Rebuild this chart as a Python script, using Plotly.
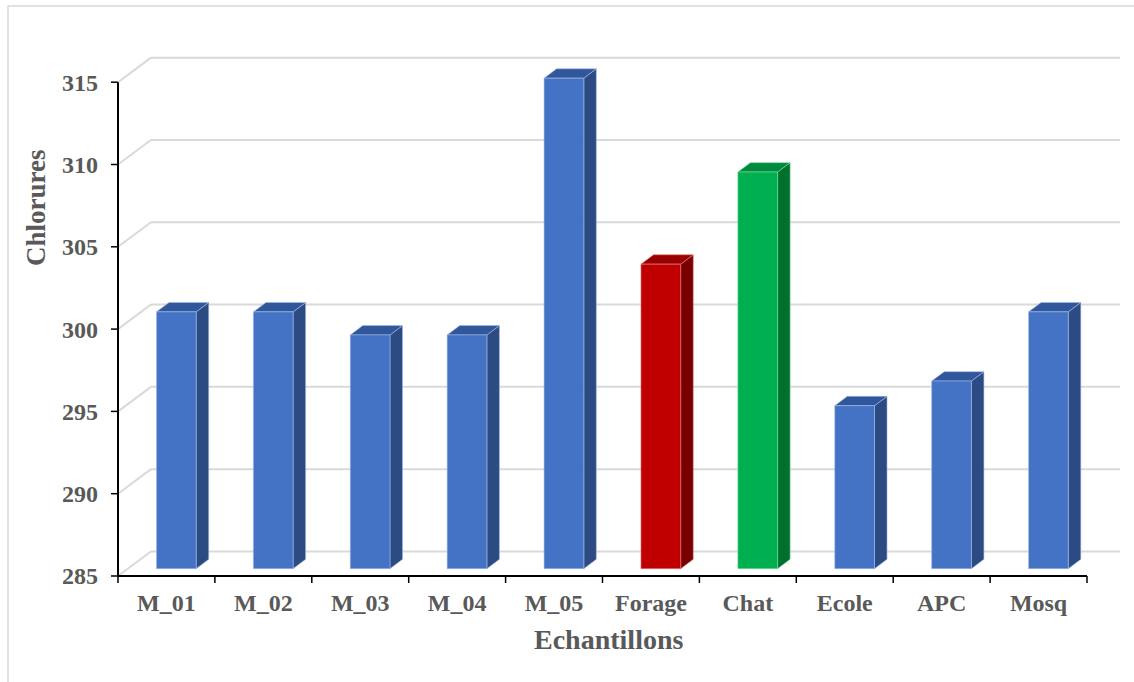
import plotly.graph_objects as go

# ---- data -------------------------------------------------------------
categories = ["M_01", "M_02", "M_03", "M_04", "M_05",
              "Forage", "Chat", "Ecole", "APC", "Mosq"]
chlorures = [300.6, 300.6, 299.2, 299.2, 314.8, 303.5, 309.1, 294.9, 296.4, 300.6]
bar_groups = ["blue", "blue", "blue", "blue", "blue",
              "red", "green", "blue", "blue", "blue"]
y_ticks = [285, 290, 295, 300, 305, 310, 315]

# ---- styling ----------------------------------------------------------
palette = {
    "blue":  {"front": "#4472C4", "side": "#2C4B82", "top": "#30579B", "edge": "rgba(160,185,230,0.6)"},
    "red":   {"front": "#C00000", "side": "#780000", "top": "#980000", "edge": "rgba(230,120,120,0.6)"},
    "green": {"front": "#00B050", "side": "#00702F", "top": "#008A3D", "edge": "rgba(120,220,160,0.6)"},
}
TEXT = "#595959"
GRID = "#D9D9D9"
FONT = "Liberation Serif"

# pseudo-3D geometry (data units)
Y_BASE = 285
DEPTH_X = 0.34      # back-wall shift along x
DEPTH_Y = 1.49      # back-wall shift along y
BAR_HALF = 0.205    # half bar width
D_FRONT, D_BACK = 0.30, 0.68   # bar depth slice

# pixel frame of the figure
W, H = 1134, 682
L_PX, R_PX, T_PX, B_PX = 108, 1121, 50, 586
FRONT_LEFT_PX, X_UNIT = 118, 96.9
BASE_PX, Y_UNIT = 576, 16.46
x_range = [-0.5 - (FRONT_LEFT_PX - L_PX) / X_UNIT, -0.5 + (R_PX - FRONT_LEFT_PX) / X_UNIT]
y_range = [Y_BASE - (B_PX - BASE_PX) / Y_UNIT, Y_BASE + (BASE_PX - T_PX) / Y_UNIT]


def px_to_paper(x, y):
    return (x - L_PX) / (R_PX - L_PX), (B_PX - y) / (B_PX - T_PX)


fig = go.Figure()

# ---- bars as three shaded faces --------------------------------------
faces = {g: {"front": ([], []), "side": ([], []), "top": ([], [])} for g in palette}
for i, (val, grp) in enumerate(zip(chlorures, bar_groups)):
    fx0 = i - BAR_HALF + D_FRONT * DEPTH_X
    fx1 = i + BAR_HALF + D_FRONT * DEPTH_X
    fy0 = Y_BASE + D_FRONT * DEPTH_Y
    fy1 = val + D_FRONT * DEPTH_Y
    ddx = (D_BACK - D_FRONT) * DEPTH_X
    ddy = (D_BACK - D_FRONT) * DEPTH_Y
    polys = {
        "front": ([fx0, fx1, fx1, fx0, fx0], [fy0, fy0, fy1, fy1, fy0]),
        "side": ([fx1, fx1 + ddx, fx1 + ddx, fx1, fx1], [fy0, fy0 + ddy, fy1 + ddy, fy1, fy0]),
        "top": ([fx0, fx1, fx1 + ddx, fx0 + ddx, fx0], [fy1, fy1, fy1 + ddy, fy1 + ddy, fy1]),
    }
    for face, (xs, ys) in polys.items():
        faces[grp][face][0].extend(xs + [None])
        faces[grp][face][1].extend(ys + [None])

for grp, fdict in faces.items():
    for face in ("side", "top", "front"):
        xs, ys = fdict[face]
        if not xs:
            continue
        fig.add_trace(go.Scatter(
            x=xs, y=ys, mode="lines", fill="toself",
            fillcolor=palette[grp][face],
            line=dict(color=palette[grp]["edge"], width=1),
            hoverinfo="skip", showlegend=False,
        ))

# ---- back wall grid + left-wall diagonals ----------------------------
shapes = []
for t in y_ticks:
    shapes.append(dict(type="line", xref="x", yref="y", layer="below",
                       x0=-0.5 + DEPTH_X, x1=9.5 + DEPTH_X, y0=t + DEPTH_Y, y1=t + DEPTH_Y,
                       line=dict(color=GRID, width=2)))
    shapes.append(dict(type="line", xref="x", yref="y", layer="below",
                       x0=-0.5, x1=-0.5 + DEPTH_X, y0=t, y1=t + DEPTH_Y,
                       line=dict(color=GRID, width=2)))

# ---- axis lines and tick marks ---------------------------------------
AX = dict(color="#000000", width=2)
shapes.append(dict(type="line", xref="x", yref="y", layer="above",
                   x0=-0.5, x1=-0.5, y0=Y_BASE, y1=y_ticks[-1], line=AX))
shapes.append(dict(type="line", xref="x", yref="y", layer="above",
                   x0=-0.5, x1=9.5, y0=Y_BASE, y1=Y_BASE, line=AX))
for t in y_ticks:
    shapes.append(dict(type="line", xref="x", yref="y", layer="above",
                       xsizemode="pixel", xanchor=-0.5, x0=0, x1=-7, y0=t, y1=t,
                       line=dict(color="#000000", width=1.5)))
for b in range(len(categories) + 1):
    shapes.append(dict(type="line", xref="x", yref="y", layer="above",
                       ysizemode="pixel", yanchor=Y_BASE, y0=0, y1=-7, x0=b - 0.5, x1=b - 0.5,
                       line=dict(color="#000000", width=1.5)))

# ---- outer chart frame ------------------------------------------------
fx0, fy0 = px_to_paper(8, 6)
fx1, fy1 = px_to_paper(1140, 690)
shapes.append(dict(type="rect", xref="paper", yref="paper",
                   x0=fx0, x1=fx1, y0=fy1, y1=fy0,
                   line=dict(color=GRID, width=1.5)))

# ---- axis titles -------------------------------------------------------
tx, ty = px_to_paper(608, 639)
cx, cy = px_to_paper(36, 208)
annotations = [
    dict(text="Echantillons", xref="paper", yref="paper", x=tx, y=ty,
         showarrow=False, xanchor="center", yanchor="middle",
         font=dict(family=FONT, size=28, color=TEXT, weight="bold")),
    dict(text="Chlorures", xref="paper", yref="paper", x=cx, y=cy, textangle=-90,
         showarrow=False, xanchor="center", yanchor="middle",
         font=dict(family=FONT, size=27, color=TEXT, weight="bold")),
]

tick_font = dict(family=FONT, size=24, color=TEXT, weight="bold")
fig.update_layout(
    width=W, height=H,
    margin=dict(l=L_PX, r=W - R_PX, t=T_PX, b=H - B_PX),
    paper_bgcolor="white", plot_bgcolor="white",
    shapes=shapes, annotations=annotations,
    xaxis=dict(range=x_range, tickvals=list(range(len(categories))), ticktext=categories,
               ticks="", showgrid=False, zeroline=False, showline=False,
               tickfont=tick_font, fixedrange=True),
    yaxis=dict(range=y_range, tickvals=y_ticks, ticks="", showgrid=False,
               zeroline=False, showline=False, tickfont=tick_font,
               ticklabelstandoff=9, fixedrange=True),
    showlegend=False,
)

fig.write_html("out.html")
